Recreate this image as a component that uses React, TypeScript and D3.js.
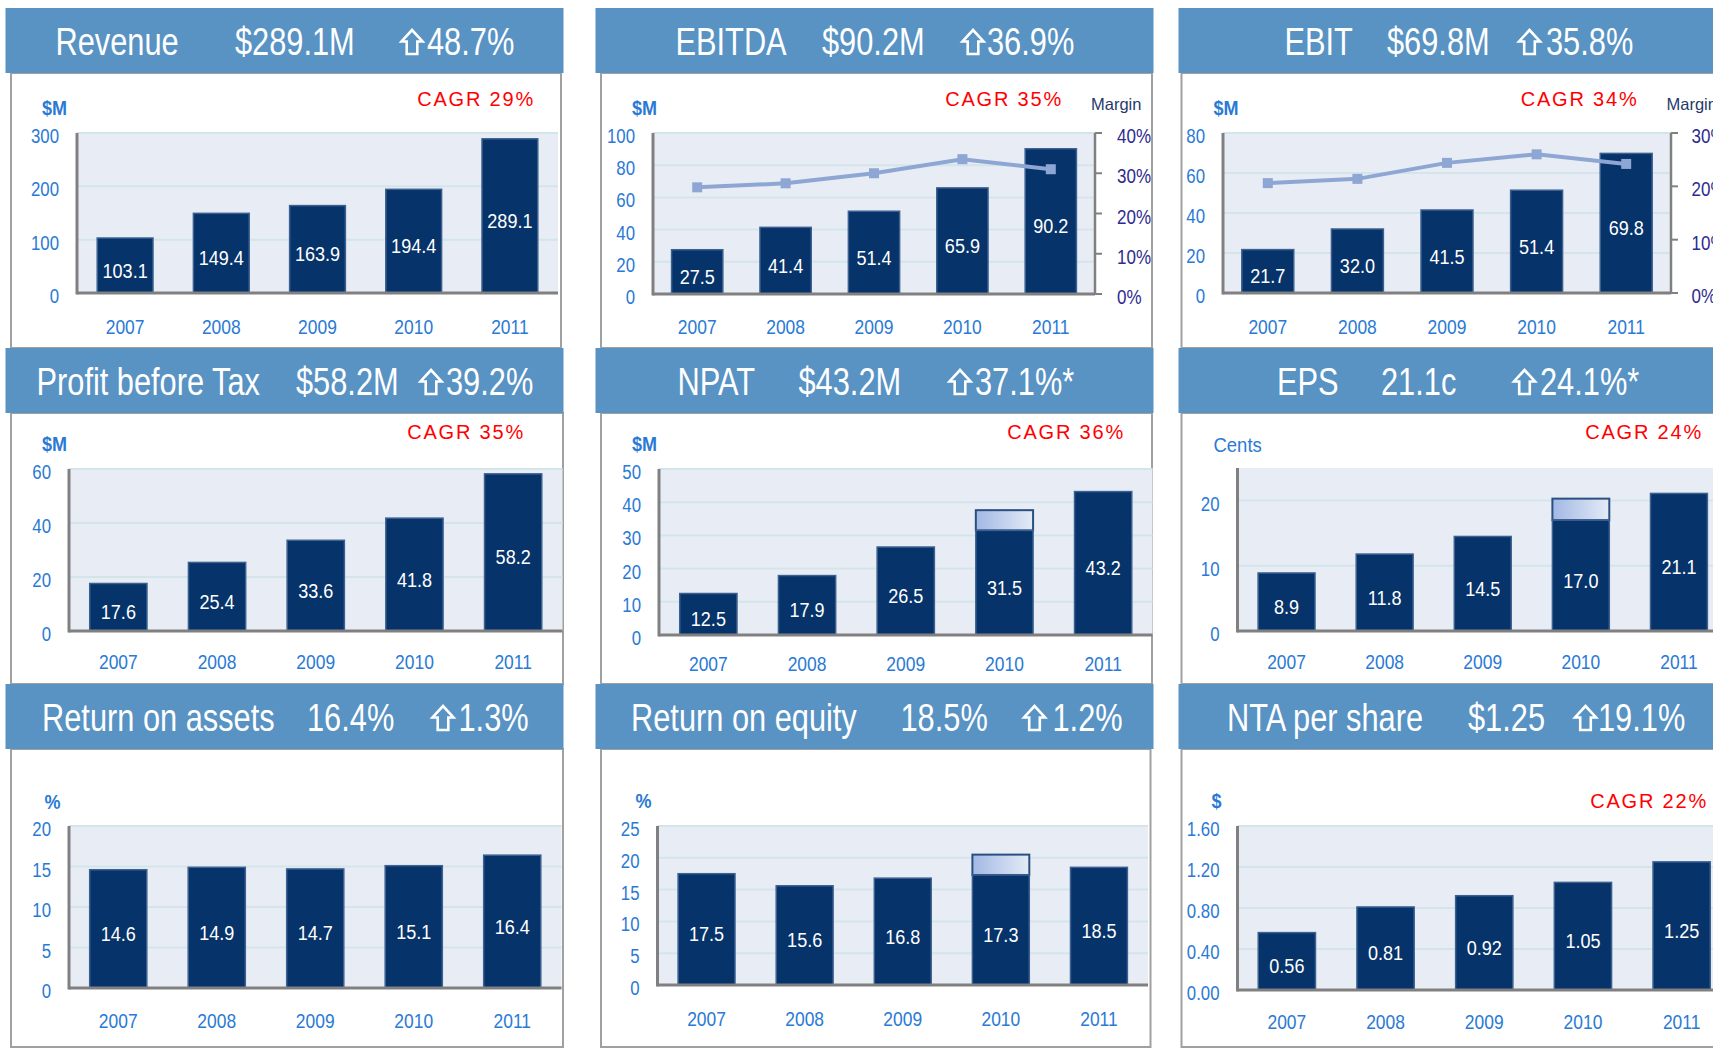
import React from 'react';
import * as d3 from 'd3';

// ---------- data ----------
const years = ['2007', '2008', '2009', '2010', '2011'];

const revenue = [103.1, 149.4, 163.9, 194.4, 289.1];
const ebitda = [27.5, 41.4, 51.4, 65.9, 90.2];
const ebitdaMargin = [26.5, 27.5, 30.0, 33.5, 31.0];
const ebit = [21.7, 32.0, 41.5, 51.4, 69.8];
const ebitMargin = [20.6, 21.4, 24.4, 26.0, 24.2];
const pbt = [17.6, 25.4, 33.6, 41.8, 58.2];
const npat = [12.5, 17.9, 26.5, 31.5, 43.2];
const npatRestatedTop = [0, 0, 0, 37.6, 0];
const eps = [8.9, 11.8, 14.5, 17.0, 21.1];
const epsRestatedTop = [0, 0, 0, 20.3, 0];
const roa = [14.6, 14.9, 14.7, 15.1, 16.4];
const roe = [17.5, 15.6, 16.8, 17.3, 18.5];
const roeRestatedTop = [0, 0, 0, 20.5, 0];
const nta = [0.56, 0.81, 0.92, 1.05, 1.25];

const panelTitles = ['Revenue', 'EBITDA', 'EBIT', 'Profit before Tax', 'NPAT', 'EPS', 'Return on assets', 'Return on equity', 'NTA per share'];
const headlineValues = ['$289.1M', '$90.2M', '$69.8M', '$58.2M', '$43.2M', '21.1c', '16.4%', '18.5%', '$1.25'];
const changeValues = ['48.7%', '36.9%', '35.8%', '39.2%', '37.1%*', '24.1%*', '1.3%', '1.2%', '19.1%'];
const cagrLabels = ['CAGR 29%', 'CAGR 35%', 'CAGR 34%', 'CAGR 35%', 'CAGR 36%', 'CAGR 24%', '', '', 'CAGR 22%'];
const unitLabels = ['$M', '$M', '$M', '$M', '$M', 'Cents', '%', '%', '$'];

const revenueTicks = [0, 100, 200, 300];
const ebitdaTicks = [0, 20, 40, 60, 80, 100];
const ebitTicks = [0, 20, 40, 60, 80];
const pbtTicks = [0, 20, 40, 60];
const npatTicks = [0, 10, 20, 30, 40, 50];
const epsTicks = [0, 10, 20];
const roaTicks = [0, 5, 10, 15, 20];
const roeTicks = [0, 5, 10, 15, 20, 25];
const ntaTicks = [0, 0.4, 0.8, 1.2, 1.6];
const ebitdaMarginTicks = [0, 10, 20, 30, 40];
const ebitMarginTicks = [0, 10, 20, 30];
const marginLabel = 'Margin';

// ---------- layout / styles ----------
const FS = "'Liberation Sans',Arial,Helvetica,sans-serif";
const HEADER_BG = '#5893C4';
const PLOT_BG = '#E8EDF5';
const GRID = '#D3E5EB';
const AXIS = '#808080';
const BAR = '#06336A';
const BAR_EDGE = '#3C6090';
const TICK_BLUE = '#2A7AD5';
const RIGHT_TICK = '#2E2B8E';

type Lay = {
  hx: number; hy: number; hw: number; bl: number; br: number; bb: number;
  l: number; r: number; t: number; b: number;
  ux: number; uy: number; cx: number; cy: number; xb: number;
  tx: number[]; ml?: { x: number; y: number; lx: number };
};

const layouts: Lay[] = [
  { hx: 5.5, hy: 8, hw: 558, bl: 11, br: 561, bb: 348, l: 77, r: 558, t: 133, b: 293, ux: 42, uy: 115, cx: 535, cy: 106, xb: 334, tx: [55.5, 235, 400.5, 427] },
  { hx: 595.5, hy: 8, hw: 558, bl: 601, br: 1152, bb: 348, l: 653, r: 1095, t: 133, b: 294, ux: 632, uy: 115, cx: 1063, cy: 106, xb: 334, tx: [675.5, 822, 961.5, 987], ml: { x: 1091, y: 110, lx: 1117 } },
  { hx: 1178.5, hy: 8, hw: 560, bl: 1181.5, br: 1730, bb: 348, l: 1223, r: 1671, t: 133, b: 293, ux: 1213.5, uy: 115, cx: 1638.5, cy: 106, xb: 334, tx: [1284.5, 1387, 1518, 1546], ml: { x: 1666.5, y: 110, lx: 1691.5 } },
  { hx: 5.5, hy: 348, hw: 558, bl: 11, br: 563, bb: 684, l: 69, r: 562.5, t: 469, b: 631, ux: 42, uy: 451, cx: 525, cy: 439, xb: 669, tx: [36.5, 296, 419.5, 446] },
  { hx: 595.5, hy: 348, hw: 558, bl: 601, br: 1152, bb: 684, l: 659, r: 1152.5, t: 469, b: 635, ux: 632, uy: 451, cx: 1125, cy: 439, xb: 671, tx: [677.5, 798.5, 948.5, 975] },
  { hx: 1178.5, hy: 348, hw: 560, bl: 1181.5, br: 1730, bb: 684, l: 1237.5, r: 1728, t: 468, b: 631, ux: 1213.5, uy: 452, cx: 1703, cy: 439, xb: 669, tx: [1277, 1381, 1513, 1540] },
  { hx: 5.5, hy: 684, hw: 558, bl: 11, br: 563, bb: 1047, l: 69, r: 561.5, t: 826, b: 988, ux: 44.5, uy: 809, cx: 0, cy: 0, xb: 1028, tx: [42, 307, 431.5, 458.5] },
  { hx: 595.5, hy: 684, hw: 558, bl: 601, br: 1150.5, bb: 1047, l: 657.5, r: 1148, t: 826, b: 985, ux: 635.5, uy: 808, cx: 0, cy: 0, xb: 1026, tx: [631, 900.5, 1023, 1052.5] },
  { hx: 1178.5, hy: 684, hw: 560, bl: 1181.5, br: 1730, bb: 1047, l: 1237.5, r: 1731, t: 826, b: 990, ux: 1211.5, uy: 808, cx: 1708, cy: 808, xb: 1029, tx: [1227, 1468, 1574, 1598] },
];

type PanelSpec = {
  values: number[];
  top?: number[];
  ticks: number[];
  yMax: number;
  tickFmt: (v: number) => string;
  valFmt: (v: number) => string;
  margin?: number[];
  marginTicks?: number[];
};

const f1 = d3.format('.1f');
const f2 = d3.format('.2f');
const f0 = d3.format('d');

const specs: PanelSpec[] = [
  { values: revenue, ticks: revenueTicks, yMax: 300, tickFmt: f0, valFmt: f1 },
  { values: ebitda, ticks: ebitdaTicks, yMax: 100, tickFmt: f0, valFmt: f1, margin: ebitdaMargin, marginTicks: ebitdaMarginTicks },
  { values: ebit, ticks: ebitTicks, yMax: 80, tickFmt: f0, valFmt: f1, margin: ebitMargin, marginTicks: ebitMarginTicks },
  { values: pbt, ticks: pbtTicks, yMax: 60, tickFmt: f0, valFmt: f1 },
  { values: npat, top: npatRestatedTop, ticks: npatTicks, yMax: 50, tickFmt: f0, valFmt: f1 },
  { values: eps, top: epsRestatedTop, ticks: epsTicks, yMax: 25, tickFmt: f0, valFmt: f1 },
  { values: roa, ticks: roaTicks, yMax: 20, tickFmt: f0, valFmt: f1 },
  { values: roe, top: roeRestatedTop, ticks: roeTicks, yMax: 25, tickFmt: f0, valFmt: f1 },
  { values: nta, ticks: ntaTicks, yMax: 1.6, tickFmt: f2, valFmt: f2 },
];

type NTProps = {
  x: number; y: number; children: React.ReactNode; anchor?: string; size?: number; sx?: number;
  fill?: string; weight?: string | number; spacing?: number;
};

// condensed text: Liberation Sans squeezed horizontally
function NT({ x, y, children, anchor = 'start', size = 21, sx = 0.8, fill = TICK_BLUE, weight = 'normal', spacing = 0 }: NTProps) {
  return (
    <text
      transform={`translate(${x},${y}) scale(${sx},1)`}
      textAnchor={anchor as any}
      fontFamily={FS}
      fontSize={size}
      fill={fill}
      fontWeight={weight as any}
      letterSpacing={spacing}
    >
      {children}
    </text>
  );
}

function Frame({ i }: { i: number }) {
  const L = layouts[i];
  return (
    <rect x={L.bl} y={L.hy + 65} width={L.br - L.bl} height={L.bb - L.hy - 65} fill="#fff" stroke="#A0A0A0" strokeWidth={2} />
  );
}

function UpArrow({ x, y }: { x: number; y: number }) {
  // hollow up arrow; (x, y) = left, baseline
  const w = 23;
  const h = 26;
  const top = y - h;
  const hh = h * 0.48;
  const s0 = w * 0.27;
  const s1 = w * 0.73;
  const d = `M${x + w / 2},${top + 1} L${x + w - 1},${top + hh} L${x + s1},${top + hh} L${x + s1},${y - 1} L${x + s0},${y - 1} L${x + s0},${top + hh} L${x + 1},${top + hh} Z`;
  return <path d={d} fill="none" stroke="#fff" strokeWidth={2.6} strokeLinejoin="miter" />;
}

function Header({ i }: { i: number }) {
  const L = layouts[i];
  const by = L.hy + 47;
  return (
    <g>
      <rect x={L.hx} y={L.hy} width={L.hw} height={65} fill={HEADER_BG} />
      <NT x={L.tx[0]} y={by} size={38} sx={0.81} fill="#fff">{panelTitles[i]}</NT>
      <NT x={L.tx[1]} y={by} size={38} sx={0.81} fill="#fff">{headlineValues[i]}</NT>
      <UpArrow x={L.tx[2]} y={by} />
      <NT x={L.tx[3]} y={by} size={38} sx={0.81} fill="#fff">{changeValues[i]}</NT>
    </g>
  );
}

function Chart({ i }: { i: number }) {
  const L = layouts[i];
  const S = specs[i];
  const x = d3.scaleBand<string>().domain(years).range([L.l, L.r]).paddingInner(0.42).paddingOuter(0.21);
  const y = d3.scaleLinear().domain([0, S.yMax]).range([L.b, L.t]);
  const bw = x.bandwidth();
  const ym = S.marginTicks ? d3.scaleLinear().domain([0, d3.max(S.marginTicks) as number]).range([L.b, L.t]) : null;
  const line = ym && S.margin
    ? d3.line<number>().x((_, k) => (x(years[k]) as number) + bw / 2).y((d) => ym(d))(S.margin)
    : null;
  return (
    <g>
      <rect x={L.l} y={L.t} width={L.r - L.l} height={L.b - L.t} fill={PLOT_BG} />
      {S.ticks.filter((t) => t > 0).map((t) => (
        <line key={t} x1={L.l} x2={L.r} y1={y(t)} y2={y(t)} stroke={GRID} strokeWidth={2} />
      ))}
      {S.ticks.map((t) => (
        <NT key={'yt' + t} x={L.l - 18} y={y(t) + 10} anchor="end" size={21} sx={0.8}>
          {S.tickFmt(t)}
        </NT>
      ))}
      {S.values.map((v, k) => {
        const x0 = x(years[k]) as number;
        const tp = S.top ? S.top[k] : 0;
        return (
          <g key={years[k]}>
            {tp > v && (
              <rect x={x0} y={y(tp)} width={bw} height={y(v) - y(tp)} fill="url(#seg)" stroke="#2A4F82" strokeWidth={2} />
            )}
            <rect x={x0} y={y(v)} width={bw} height={L.b - y(v)} fill={BAR} stroke={BAR_EDGE} strokeWidth={1.5} />
            <NT x={x0 + bw / 2} y={(y(v) + L.b) / 2 + 12} anchor="middle" size={21} sx={0.86} fill="#fff">
              {S.valFmt(v)}
            </NT>
          </g>
        );
      })}
      {years.map((yr) => (
        <NT key={'x' + yr} x={(x(yr) as number) + bw / 2} y={L.xb} anchor="middle" size={21} sx={0.83}>
          {yr}
        </NT>
      ))}
      <line x1={L.l} x2={L.l} y1={L.t} y2={L.b + 1.5} stroke={AXIS} strokeWidth={3} />
      <line x1={L.l} x2={L.r} y1={L.b} y2={L.b} stroke={AXIS} strokeWidth={3} />
      {ym && S.marginTicks && L.ml && (
        <g>
          <line x1={L.r} x2={L.r} y1={L.t} y2={L.b} stroke={AXIS} strokeWidth={2.5} />
          {S.marginTicks.map((t) => (
            <g key={'m' + t}>
              <line x1={L.r} x2={L.r + 7} y1={ym(t)} y2={ym(t)} stroke={AXIS} strokeWidth={2} />
              <NT x={L.ml!.lx} y={ym(t) + 10} size={21} sx={0.81} fill={RIGHT_TICK}>{t + '%'}</NT>
            </g>
          ))}
          <text x={L.ml.x} y={L.ml.y} fill="#1F3B6B" fontFamily={FS} fontSize={16.5}>{marginLabel}</text>
          <path d={line as string} fill="none" stroke="#8EA6D3" strokeWidth={4} />
          {S.margin!.map((m, k) => (
            <rect key={'mk' + k} x={(x(years[k]) as number) + bw / 2 - 5} y={ym(m) - 5} width={10} height={10} fill="#8EA6D3" />
          ))}
        </g>
      )}
      <NT x={L.ux} y={L.uy} size={unitLabels[i] === 'Cents' ? 21 : 20} sx={unitLabels[i] === 'Cents' ? 0.88 : 0.9} weight={unitLabels[i] === 'Cents' ? 'normal' : 'bold'}>
        {unitLabels[i]}
      </NT>
      {cagrLabels[i] && (
        <text x={L.cx} y={L.cy} textAnchor="end" fill="#FF0000" fontFamily={FS} fontSize={20} letterSpacing={1.8}>
          {cagrLabels[i]}
        </text>
      )}
    </g>
  );
}

export default function App() {
  const idx = d3.range(9);
  return (
    <svg width={1713} height={1048} style={{ position: 'absolute', left: 0, top: 0, background: '#fff' }}>
      <defs>
        <linearGradient id="seg" x1="0" x2="1" y1="0" y2="0">
          <stop offset="0" stopColor="#A2B8E4" />
          <stop offset="1" stopColor="#E4EBF6" />
        </linearGradient>
      </defs>
      <rect x={0} y={0} width={1713} height={1048} fill="#fff" />
      {idx.map((i) => <Frame key={'f' + i} i={i} />)}
      {idx.map((i) => <Chart key={'c' + i} i={i} />)}
      {idx.map((i) => <Header key={'h' + i} i={i} />)}
    </svg>
  );
}
